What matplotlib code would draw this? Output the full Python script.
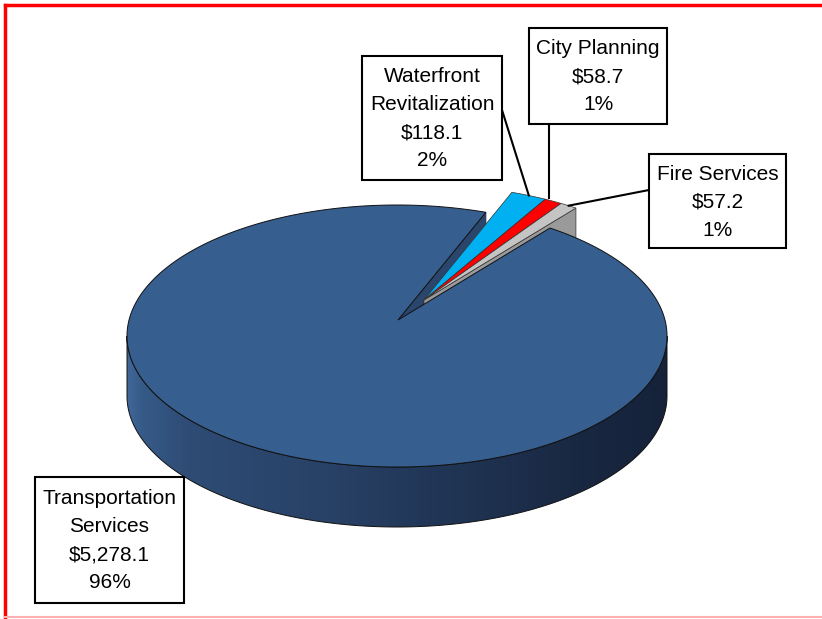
import matplotlib.pyplot as plt
import numpy as np
from matplotlib.patches import Polygon, Rectangle
from matplotlib.colors import to_rgb

# budget by department ($ millions), pie runs counter-clockwise from Fire Services
names = ['Fire Services', 'City Planning', 'Waterfront\nRevitalization', 'Transportation\nServices']
values = [57.2, 58.7, 118.1, 5278.1]
top_colors = ['#c4c4c4', '#ff0000', '#00b0f0', '#365e8e']
wall_colors = ['#9a9a9a', '#c00000', '#0090c8', '#2b466c']
exploded = [True, True, True, False]

# label boxes (x0, y0, x1, y1) in pixels and where the leader leaves the box
boxes = [(649, 154, 786, 248), (529, 28, 667, 124), (362, 56, 502, 180), (35, 477, 184, 603)]
leader_side = ['left', 'bottom', 'right', None]

# 3d pie geometry (pixels)
cx, cy = 397, 336
a, b = 270, 131
depth = 60
apex_dx, apex_dy = 1, -16
start = 55.5
shift = (26, -20)

total = sum(values)
fracs = np.array(values) / total
edges = start + 360 * np.concatenate([[0], np.cumsum(fracs)])


def outer(x0, y0, t, z=0):
    r = np.radians(t)
    return (x0 + a * np.cos(r), y0 - b * np.sin(r) + z)


def top_face(x0, y0, t0, t1):
    ts = np.linspace(t0, t1, max(3, int(abs(t1 - t0) * 2)))
    pts = [(x0 + apex_dx, y0 + apex_dy)] + [outer(x0, y0, t) for t in ts]
    return pts


def wall(x0, y0, t):
    ax_, ay_ = x0 + apex_dx, y0 + apex_dy
    ox, oy = outer(x0, y0, t)
    return [(ax_, ay_), (ox, oy), (ox, oy + depth), (ax_, ay_ + depth)]


fig = plt.figure(figsize=(8.22, 6.19), dpi=100)
ax = fig.add_axes([0, 0, 1, 1])

centers = []
for i in range(len(values)):
    if exploded[i]:
        centers.append((cx + shift[0], cy + shift[1]))
    else:
        centers.append((cx, cy))

big = 3
# wall of the big slice facing the gap
ax.add_patch(Polygon(wall(cx, cy, edges[big]), closed=True, facecolor=wall_colors[big],
                     edgecolor='#1b2a40', lw=0.6))

# exploded small slices, back to front
for i in [2, 1, 0]:
    x0, y0 = centers[i]
    ax.add_patch(Polygon(wall(x0, y0, edges[i]), closed=True, facecolor=wall_colors[i],
                         edgecolor='#333333', lw=0.5))
    ax.add_patch(Polygon(top_face(x0, y0, edges[i], edges[i + 1]), closed=True,
                         facecolor=top_colors[i], edgecolor='#333333', lw=0.5))

# outer side of the big slice, shaded left to right
ts = np.linspace(180, 360, 181)
side_pts = [outer(cx, cy, t) for t in ts] + [outer(cx, cy, t, depth) for t in ts[::-1]]
side = Polygon(side_pts, closed=True, facecolor='none', edgecolor='#111111', lw=0.7, zorder=2)
ax.add_patch(side)
stop_x = [cx - a, cx - a + 15, cx - a + 60, cx - 70, cx + 70, cx + 200, cx + a]
stop_c = ['#41679a', '#365a88', '#2e4c75', '#284166', '#1f3352', '#18263f', '#15223a']
gx = np.linspace(cx - a, cx + a, 400)
grad = np.array([[np.interp(x, stop_x, [to_rgb(c)[k] for c in stop_c]) for k in range(3)]
                 for x in gx])[None, :, :]
im = ax.imshow(grad, extent=(cx - a, cx + a, cy + b + depth + 2, cy - 2), aspect='auto',
               interpolation='bilinear', zorder=1)
im.set_clip_path(side)

# top of the big slice
ax.add_patch(Polygon(top_face(cx, cy, edges[big], edges[big + 1]), closed=True,
                     facecolor=top_colors[big], edgecolor='#111111', lw=0.7, zorder=3))

# labels
for i in range(len(values)):
    x0b, y0b, x1b, y1b = boxes[i]
    ax.add_patch(Rectangle((x0b, y0b), x1b - x0b, y1b - y0b, facecolor='white',
                           edgecolor='black', lw=1.5, zorder=5))
    txt = f"{names[i]}\n${values[i]:,.1f}\n{fracs[i] * 100:.0f}%"
    ax.text((x0b + x1b) / 2, (y0b + y1b) / 2 + 1, txt, ha='center', va='center',
            fontsize=15, linespacing=1.6, zorder=6,
            family=['Liberation Sans Narrow', 'Liberation Sans', 'DejaVu Sans'])
    if leader_side[i] is None:
        continue
    mx, my = centers[i]
    end = outer(mx, my, (edges[i] + edges[i + 1]) / 2)
    if leader_side[i] == 'left':
        st = (x0b, y0b + 36)
    elif leader_side[i] == 'right':
        st = (x1b, y0b + 54)
    else:
        end = (end[0] - 4, end[1] - 3)
        st = (end[0], y1b)
    ax.plot([st[0], end[0]], [st[1], end[1]], color='black', lw=1.5, zorder=4)

# red frame
ax.plot([5, 822], [5, 5], color='#ff0000', lw=2.5)
ax.plot([5, 5], [5, 617], color='#ff0000', lw=2.5)
ax.plot([5, 822], [617, 617], color='#ffb0b0', lw=1.5)

ax.set_xlim(0, 822)
ax.set_ylim(619, 0)
ax.axis('off')

fig.savefig('out.png', dpi=100)
